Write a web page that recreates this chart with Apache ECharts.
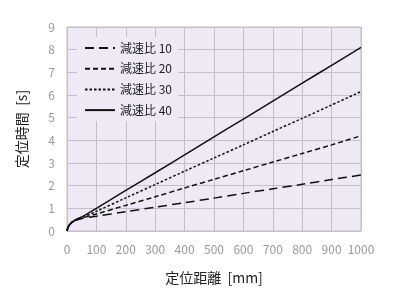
<!DOCTYPE html>
<html>
<head>
<meta charset="utf-8">
<script src="https://cdn.jsdelivr.net/npm/echarts@6/dist/echarts.min.js"></script>
<style>
  html, body { margin: 0; padding: 0; background: #fff; }
  #chart { width: 400px; height: 295px; }
</style>
</head>
<body>
<div id="chart"></div>
<script>
// 定位距離 [mm]
var distances = [0, 5, 15, 30, 50, 100, 200, 300, 400, 500, 600, 700, 800, 900, 1000];
// 定位時間 [s]
var ratio10 = [0, 0.2, 0.36, 0.47, 0.55, 0.65, 0.85, 1.05, 1.25, 1.45, 1.66, 1.86, 2.06, 2.27, 2.47];
var ratio20 = [0, 0.2, 0.36, 0.47, 0.56, 0.75, 1.13, 1.51, 1.9, 2.28, 2.66, 3.04, 3.42, 3.8, 4.2];
var ratio30 = [0, 0.2, 0.37, 0.49, 0.58, 0.87, 1.46, 2.05, 2.64, 3.22, 3.8, 4.39, 4.97, 5.56, 6.15];
var ratio40 = [0, 0.2, 0.37, 0.5, 0.62, 1.0, 1.79, 2.57, 3.36, 4.15, 4.94, 5.73, 6.52, 7.31, 8.1];
var seriesNames = ['減速比 10', '減速比 20', '減速比 30', '減速比 40'];

var font = '"Noto Sans CJK JP", "Noto Sans", sans-serif';

function pairs(ys) {
  return distances.map(function (x, i) { return [x, ys[i]]; });
}

var dashes = [[9, 5], [5, 3], [2.5, 2], 'solid'];
var allData = [ratio10, ratio20, ratio30, ratio40];

var myChart = echarts.init(document.getElementById('chart'));
var option = {
  animation: false,
  textStyle: { fontFamily: font },
  grid: {
    left: 67, right: 39, top: 27, bottom: 64,
    show: true,
    backgroundColor: '#eee9f4',
    borderColor: '#c4bec6',
    borderWidth: 1
  },
  legend: {
    orient: 'vertical',
    left: 77,
    top: 37,
    padding: [5, 6, 5, 7],
    backgroundColor: '#eee9f4',
    itemWidth: 30,
    itemHeight: 14,
    itemGap: 8.7,
    itemStyle: { opacity: 0 },
    textStyle: { fontSize: 12, color: '#222', fontFamily: font },
    data: seriesNames
  },
  xAxis: {
    type: 'value',
    min: 0, max: 1000, interval: 100,
    name: '定位距離  [mm]',
    nameLocation: 'middle',
    nameGap: 40,
    nameTextStyle: { fontSize: 14, color: '#222', fontFamily: font },
    axisLine: { show: false },
    axisTick: { show: false },
    axisLabel: { color: '#999', fontSize: 12, margin: 12, fontFamily: font,
      formatter: function (v) { return String(v); } },
    splitLine: { show: true, lineStyle: { color: '#c4bec6', width: 1 } }
  },
  yAxis: {
    type: 'value',
    min: 0, max: 9, interval: 1,
    name: '定位時間  [s]',
    nameLocation: 'middle',
    nameGap: 38,
    nameTextStyle: { fontSize: 14, color: '#222', fontFamily: font },
    axisLine: { show: false },
    axisTick: { show: false },
    axisLabel: { color: '#999', fontSize: 12, margin: 12, fontFamily: font },
    splitLine: { show: true, lineStyle: { color: '#c4bec6', width: 1 } }
  },
  series: seriesNames.map(function (name, i) {
    return {
      name: name,
      type: 'line',
      data: pairs(allData[i]),
      symbol: 'none',
      smooth: 0.3,
      lineStyle: { color: '#111', width: 1.5, type: dashes[i] },
      itemStyle: { color: '#111' }
    };
  })
};
myChart.setOption(option);
</script>
</body>
</html>
